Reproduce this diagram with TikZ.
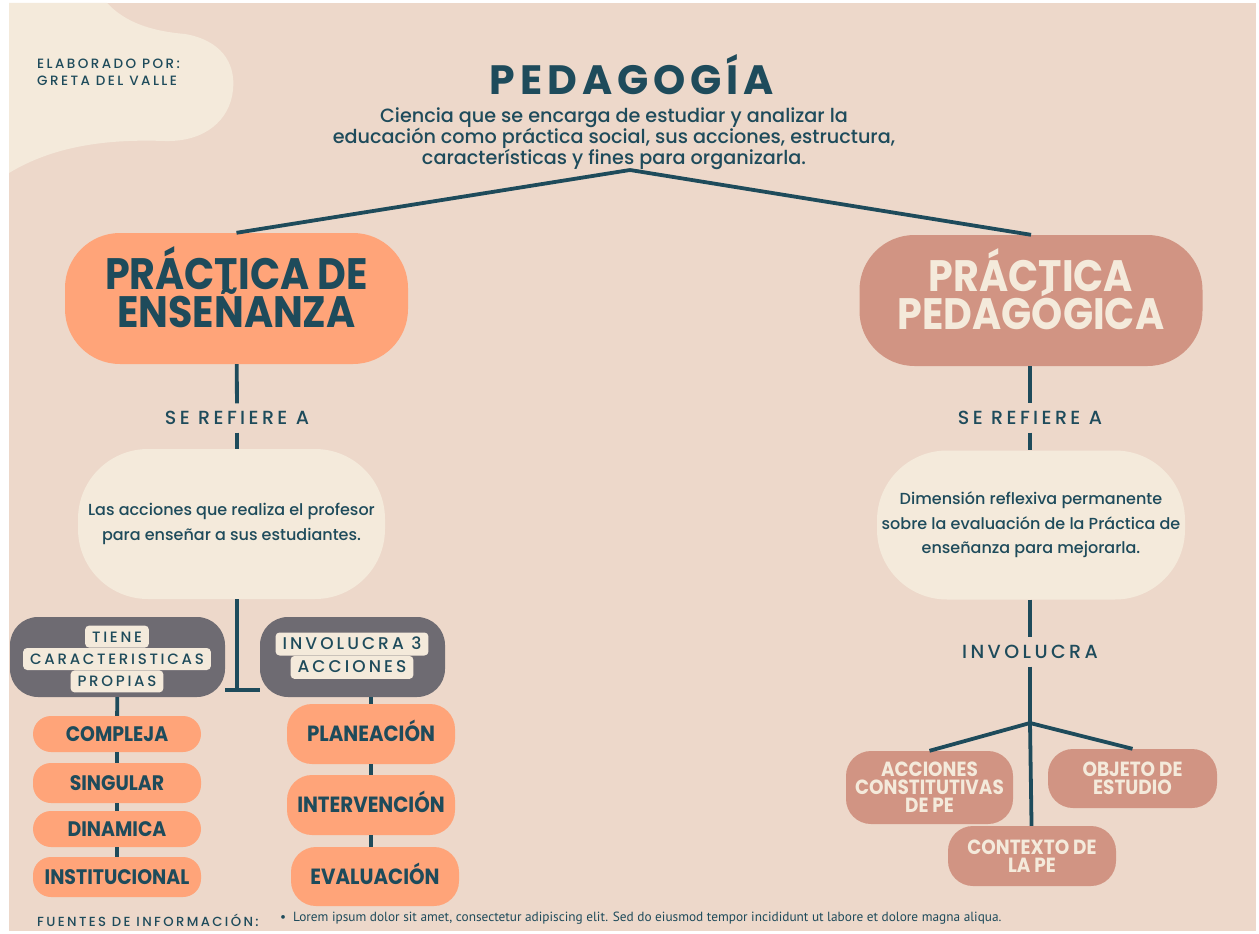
\documentclass[tikz,border=0pt]{standalone}
\usepackage{fontspec}
\setmainfont{Poppins}
\newfontfamily\medfont{Poppins Medium}
\newfontfamily\headfont[FakeStretch=0.9]{Poppins}
\newfontfamily\spacedfont[LetterSpace=18]{Poppins Medium}
\newfontfamily\titlefont[LetterSpace=12]{Poppins}
\newfontfamily\notefont{PT Sans}
\newcommand\tightlines{\lineskiplimit=-40pt\relax}
\usetikzlibrary{positioning}

\definecolor{bg}{HTML}{EDD8CA}
\definecolor{cream}{HTML}{F4EADB}
\definecolor{ink}{HTML}{1E4B5B}
\definecolor{peach}{HTML}{FFA479}
\definecolor{rose}{HTML}{D19483}
\definecolor{slate}{HTML}{6E6B72}

\begin{document}
\begin{tikzpicture}[x=1pt,y=-1pt,inner sep=0pt,
    conn/.style={draw=ink,line width=3.8pt},
    big node/.style={minimum width=343pt,minimum height=131pt,rounded corners=55pt},
    head text/.style={align=center,yshift=11.5pt,
                      font=\headfont\bfseries\fontsize{44}{37.5}\selectfont\tightlines},
    cloud node/.style={fill=cream,align=center,text=ink,minimum width=307pt,minimum height=150pt,
                       rounded corners=70pt,font=\medfont\fontsize{16}{24.5}\selectfont},
    tag/.style={text=ink,inner ysep=8pt,inner xsep=4pt,text height=13pt,text depth=0pt,
                font=\spacedfont\fontsize{19}{20}\selectfont},
    box node/.style={fill=slate,rounded corners=28pt,minimum height=80pt},
    chip/.style={fill=cream,text=ink,rounded corners=4pt,inner xsep=7pt,inner ysep=5.5pt,
                 text height=11pt,text depth=0pt,font=\spacedfont\fontsize{15}{16}\selectfont},
    item node/.style={fill=peach,text=ink,minimum width=168pt,rounded corners=18pt,
                      text height=15pt,text depth=0pt,
                      font=\headfont\bfseries\fontsize{21}{21}\selectfont},
    leaf node/.style={fill=rose,text=cream,align=center,minimum width=168pt,rounded corners=25pt,
                      font=\headfont\bfseries\fontsize{20.5}{18}\selectfont\tightlines}]

  % page and corner blob
  \useasboundingbox (0,0) rectangle (1259,934);
  \fill[white] (0,0) rectangle (1259,934);
  \fill[bg] (9,3) rectangle (1256,931);
  \fill[cream] (9,3) -- (107,3) .. controls (125,22) and (150,31) .. (185,34)
    .. controls (220,40) and (236,62) .. (233,90)
    .. controls (230,120) and (205,142) .. (165,141)
    .. controls (110,139) and (55,145) .. (9,173) -- cycle;

  \node[text=ink,anchor=west,align=left,font=\spacedfont\fontsize{13.5}{17}\selectfont] (author) at (37,72)
    {ELABORADO POR:\\GRETA DEL VALLE};

  % title
  \node[text=ink,anchor=base,font=\titlefont\bfseries\fontsize{41}{41}\selectfont] (ped) at (632,95) {PEDAGOGÍA};
  \node[text=ink,align=center,font=\medfont\fontsize{19.2}{21}\selectfont] (def) at (614,139)
    {Ciencia que se encarga de estudiar y analizar la\\
     educación como práctica social, sus acciones, estructura,\\
     características y fines para organizarla.};
  \coordinate (top) at (630,170);

  % two branches
  \node[big node,fill=peach,label={[head text,text=ink]center:PRÁCTICA DE\\ENSEÑANZA}] (pe) at (236.5,298.5) {};
  \node[big node,fill=rose,label={[head text,text=cream]center:PRÁCTICA\\PEDAGÓGICA}] (pp) at (1031,300.5) {};

  \node[tag] (sr1) at (237,418) {SE REFIERE A};
  \node[tag] (sr2) at (1030,418) {SE REFIERE A};

  \node[cloud node] (acts) at (231.5,524) {Las acciones que realiza el profesor\\para enseñar a sus estudiantes.};
  \node[cloud node,minimum width=308pt,minimum height=149pt] (dim) at (1031,525)
    {Dimensión reflexiva permanente\\sobre la evaluación de la Práctica de\\enseñanza para mejorarla.};

  % left: grey boxes
  \node[box node,minimum width=215pt] (g1) at (117.5,657) {};
  \node[box node,minimum width=185pt] (g2) at (352.5,657) {};
  \node[chip] (t2) at (117,659) {CARACTERISTICAS};
  \node[chip,above=0pt of t2] (t1) {TIENE};
  \node[chip,below=0pt of t2] (t3) {PROPIAS};
  \node[chip,inner ysep=6pt,font=\spacedfont\fontsize{17}{17}\selectfont] (v1) at (352,644) {INVOLUCRA 3};
  \node[chip,inner ysep=6pt,font=\spacedfont\fontsize{17}{17}\selectfont,below=0pt of v1] (v2) {ACCIONES};
  \coordinate (hub) at (237,690);

  \node[item node,minimum height=36pt] (c1) at (117,734) {COMPLEJA};
  \node[item node,minimum height=40pt] (c2) at (117,783) {SINGULAR};
  \node[item node,minimum height=36pt] (c3) at (117,829) {DINAMICA};
  \node[item node,minimum height=40pt] (c4) at (117,877) {INSTITUCIONAL};

  \node[item node,minimum height=60pt,rounded corners=25pt,font=\headfont\bfseries\fontsize{22}{22}\selectfont] (a1) at (371,734) {PLANEACIÓN};
  \node[item node,minimum height=60pt,rounded corners=25pt,font=\headfont\bfseries\fontsize{22}{22}\selectfont] (a2) at (371,805) {INTERVENCIÓN};
  \node[item node,minimum height=59pt,rounded corners=25pt,font=\headfont\bfseries\fontsize{22}{22}\selectfont] (a3) at (375,876.5) {EVALUACIÓN};

  % right: involucra
  \node[tag] (inv) at (1030,652) {INVOLUCRA};
  \coordinate (fork) at (1030,723);
  \node[leaf node,minimum width=167pt,minimum height=73pt] (k1) at (929.5,787.5) {ACCIONES\\CONSTITUTIVAS\\DE PE};
  \node[leaf node,minimum width=169pt,minimum height=59pt] (k2) at (1132.5,778.5) {OBJETO DE\\ESTUDIO};
  \node[leaf node,minimum height=60pt] (k3) at (1032,856) {CONTEXTO DE\\LA PE};

  % footer
  \node[text=ink,anchor=west,font=\spacedfont\fontsize{13.2}{14}\selectfont] (src) at (37,920) {FUENTES DE INFORMACIÓN:};
  \node[text=ink,anchor=west,font=\notefont\fontsize{13.3}{14}\selectfont] (lorem) at (280,918)
    {\textbullet\hspace{7pt}Lorem ipsum dolor sit amet, consectetur adipiscing elit. Sed do eiusmod tempor incididunt ut labore et dolore magna aliqua.};

  \path[conn]
    (top) edge (pe.north)
    (top) edge (pp.north)
    (pe) edge (sr1)
    (sr1) edge (sr1 |- acts.north)
    (acts.south -| hub) edge (hub)
    (g1.east |- hub) edge (g2.west |- hub)
    (g1) edge (c1)
    (c1) edge (c2)
    (c2) edge (c3)
    (c3) edge (c4)
    (a1.north |- g2.south) edge (a1.north)
    (a1) edge (a2)
    (a2.south -| a1) edge (a3.north -| a1)
    (pp.south -| sr2) edge (sr2)
    (sr2) edge (sr2 |- dim.north)
    (inv |- dim.south) edge (inv)
    (inv) edge (fork)
    (fork) edge (k1.north)
    (fork) edge (k2.north)
    (fork) edge (k3);
\end{tikzpicture}
\end{document}
